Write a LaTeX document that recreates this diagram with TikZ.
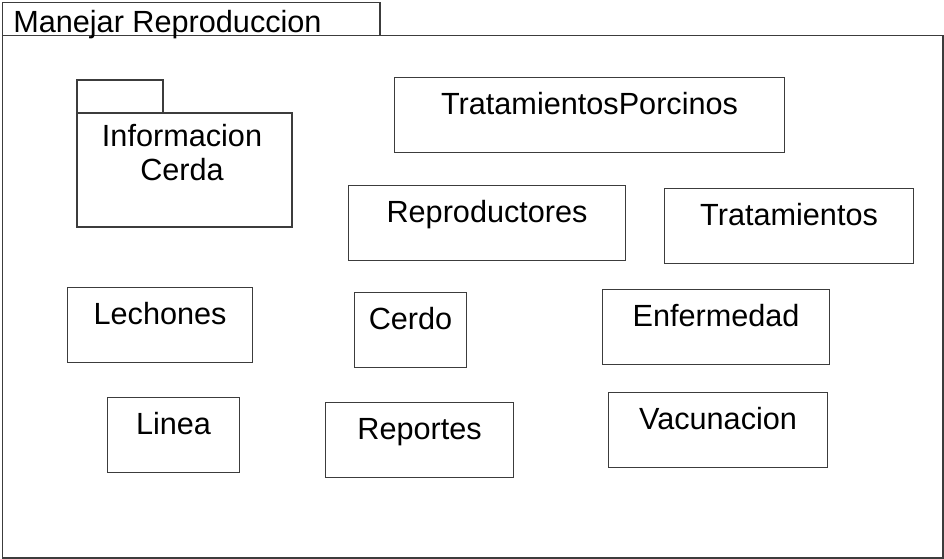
\documentclass[tikz,border=0pt]{standalone}
\usepackage{fontspec}
\setmainfont{Liberation Sans}
\definecolor{linea}{RGB}{60,60,60}
\usetikzlibrary{positioning}

\tikzset{
  marco/.style={draw=linea, line width=0.8pt},
  clase/.style={draw=linea, line width=0.8pt, anchor=north west, inner sep=0pt,
    text height=0.925cm, text depth=0.95cm, minimum width=#1, align=center},
  rotulo/.style={font=\fontsize{21.8}{24.2}\selectfont}
}

\begin{document}
\begin{tikzpicture}[rotulo]
    \useasboundingbox (0,0) rectangle (23.6,-13.975);

    % paquete exterior
    \draw[marco] (0.0625,-0.0675) rectangle (9.5,-0.8875);
    \draw[marco] (0.0625,-0.8875) rectangle (23.575,-13.95);
    \node[anchor=base west, inner sep=0pt] (titulo) at (0.325,-0.808) {Manejar Reproduccion};

    % paquete Informacion Cerda
    \draw[marco] (1.925,-2.0) rectangle (4.075,-2.825);
    \draw[marco] (1.925,-2.825) rectangle (7.3,-5.675);
    \node[align=center, anchor=north, inner sep=0pt] (infoCerda) at (4.55,-3.1) {Informacion\\Cerda};

    % clases
    \node[clase=9.75cm] (tratPorcinos) at (9.85,-1.925) {TratamientosPorcinos};
    \node[clase=6.925cm] (reproductores) at (8.7,-4.625) {Reproductores};
    \node[clase=6.225cm] (tratamientos) at (16.6,-4.7) {Tratamientos};
    \node[clase=4.625cm] (lechones) at (1.675,-7.175) {Lechones};
    \node[clase=2.8cm] (cerdo) at (8.85,-7.3) {Cerdo};
    \node[clase=5.675cm] (enfermedad) at (15.05,-7.225) {Enfermedad};
    \node[clase=3.3cm] (linea) at (2.675,-9.925) {Linea};
    \node[clase=4.7cm] (reportes) at (8.125,-10.05) {Reportes};
    \node[clase=5.475cm] (vacunacion) at (15.2,-9.8) {Vacunacion};
\end{tikzpicture}
\end{document}
